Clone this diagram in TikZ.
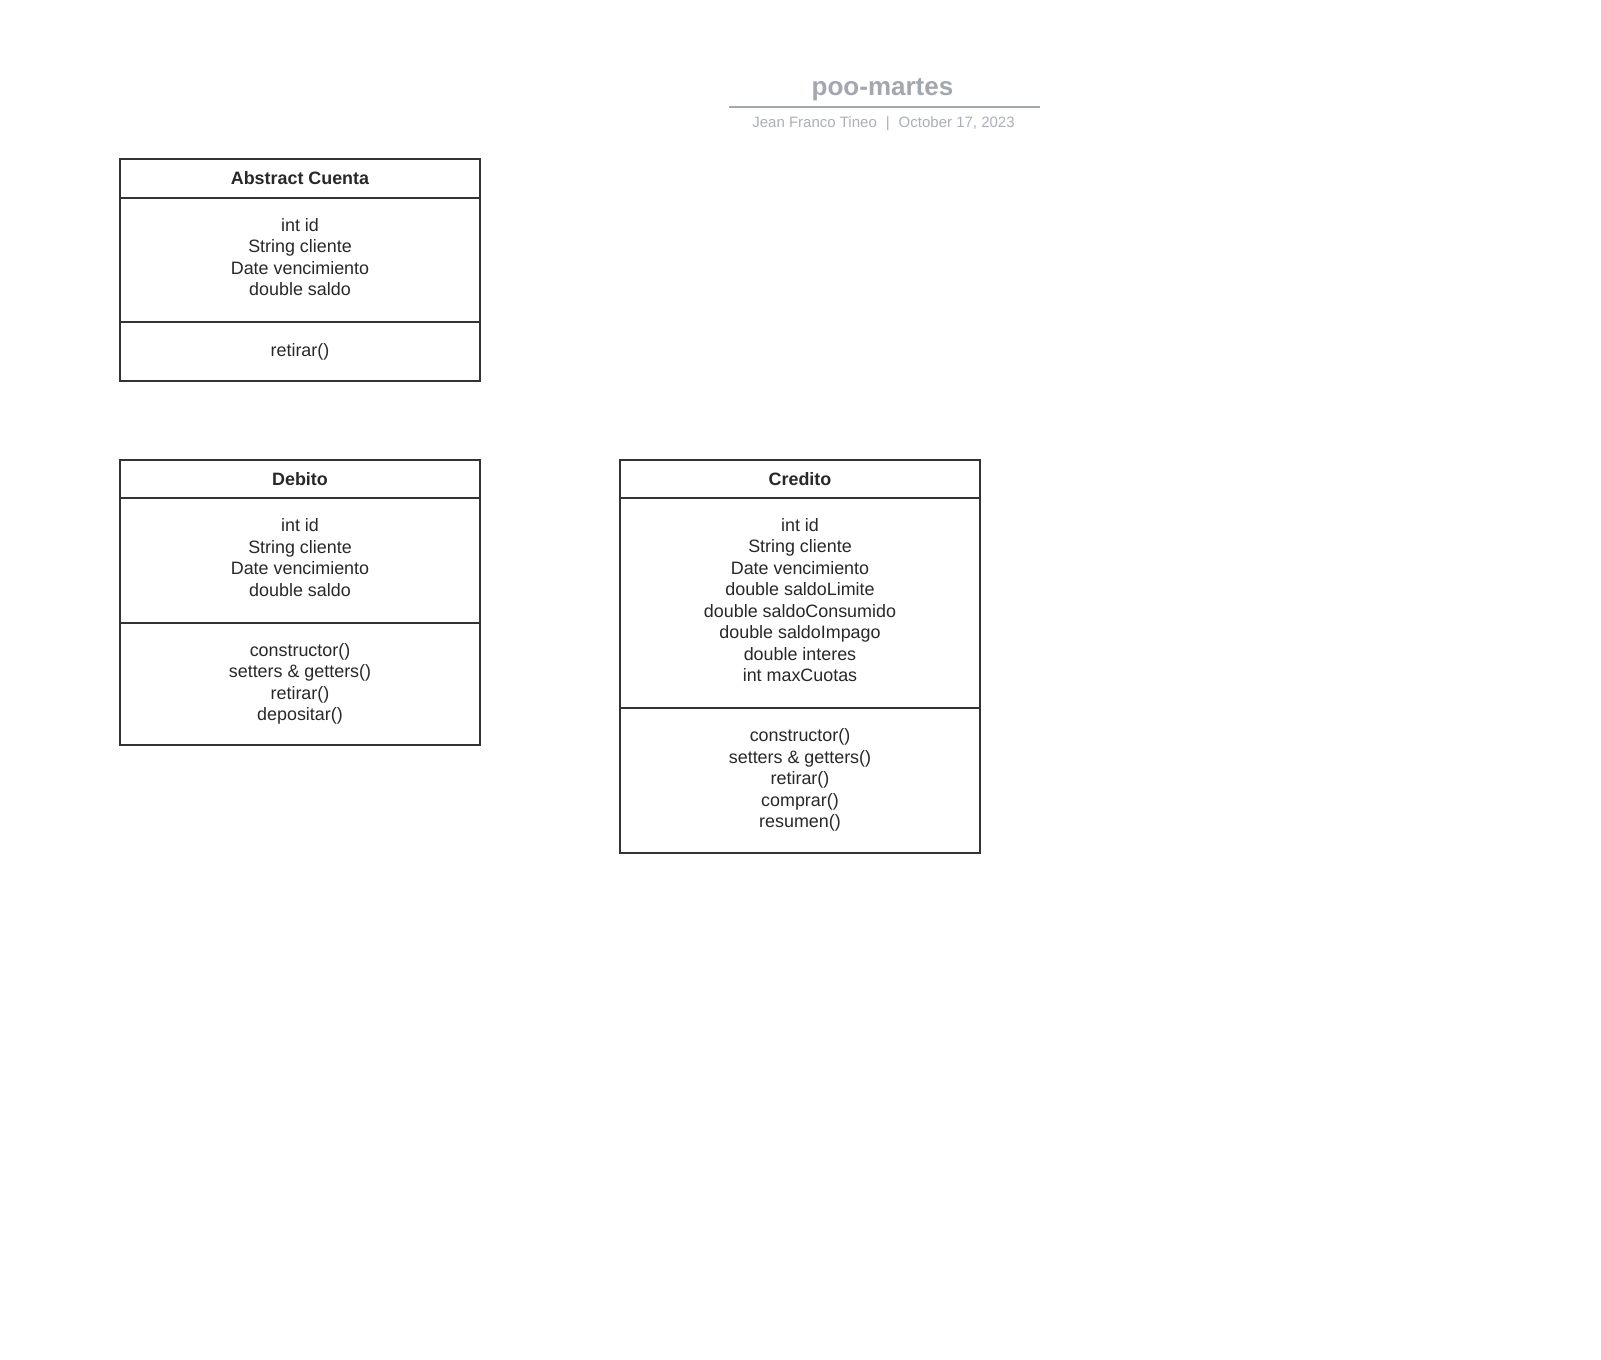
\documentclass[tikz,border=0pt]{standalone}
\usepackage{fontspec}
\setmainfont{Liberation Sans}
\usetikzlibrary{positioning}
\definecolor{linedark}{RGB}{51,51,51}
\definecolor{textdark}{RGB}{40,40,40}
\definecolor{titlegray}{RGB}{163,167,175}
\definecolor{subgray}{RGB}{172,175,183}
\newcommand{\lastpad}{\rule[-6pt]{0pt}{6pt}}

\begin{document}
\begin{tikzpicture}[
x=1pt, y=-1pt,
node distance=0pt,
compart/.style={draw=linedark, line width=2pt, outer sep=0pt, inner sep=0pt, minimum width=360pt, align=center, text=textdark, font=\fontsize{17.9}{21.5}\selectfont},
head/.style={compart, minimum height=38.5pt, font=\fontsize{17.9}{21.5}\selectfont\bfseries},
titletext/.style={anchor=base, text=titlegray, font=\fontsize{26}{30}\selectfont\bfseries},
subtext/.style={anchor=base, text=subgray, font=\fontsize{15}{17}\selectfont},
rule/.style={draw=titlegray, line width=2pt}
]

\fill[white] (0,0) rectangle (1601,1360);
\useasboundingbox (0,0) rectangle (1601,1360);

\node[titletext] (title) at (882.5,95) {poo-martes};
\coordinate (ruleleft) at (729,106.5);
\coordinate (ruleright) at (1040,106.5);
\draw[rule] (ruleleft) -- (ruleright);
\node[subtext] (sub) at (883.5,127) {Jean Franco Tineo\hspace{0.6em}|\hspace{0.6em}October 17, 2023};

\node[head] (abshead) at (300,178.5) {Abstract Cuenta};
\node[compart, minimum height=124.5pt, below=of abshead] (absattr) {int id\\String cliente\\Date vencimiento\\double saldo\lastpad};
\node[compart, minimum height=58.5pt, below=of absattr] (absmeth) {retirar()};

\node[head] (debhead) at (300,479) {Debito};
\node[compart, minimum height=124.5pt, below=of debhead] (debattr) {int id\\String cliente\\Date vencimiento\\double saldo\lastpad};
\node[compart, minimum height=122pt, below=of debattr] (debmeth) {constructor()\\setters \& getters()\\retirar()\\depositar()};

\node[head] (credhead) at (800,479) {Credito};
\node[compart, minimum height=209.5pt, below=of credhead] (credattr) {int id\\String cliente\\Date vencimiento\\double saldoLimite\\double saldoConsumido\\double saldoImpago\\double interes\\int maxCuotas\lastpad};
\node[compart, minimum height=145pt, below=of credattr] (credmeth) {constructor()\\setters \& getters()\\retirar()\\comprar()\\resumen()};

\end{tikzpicture}
\end{document}
